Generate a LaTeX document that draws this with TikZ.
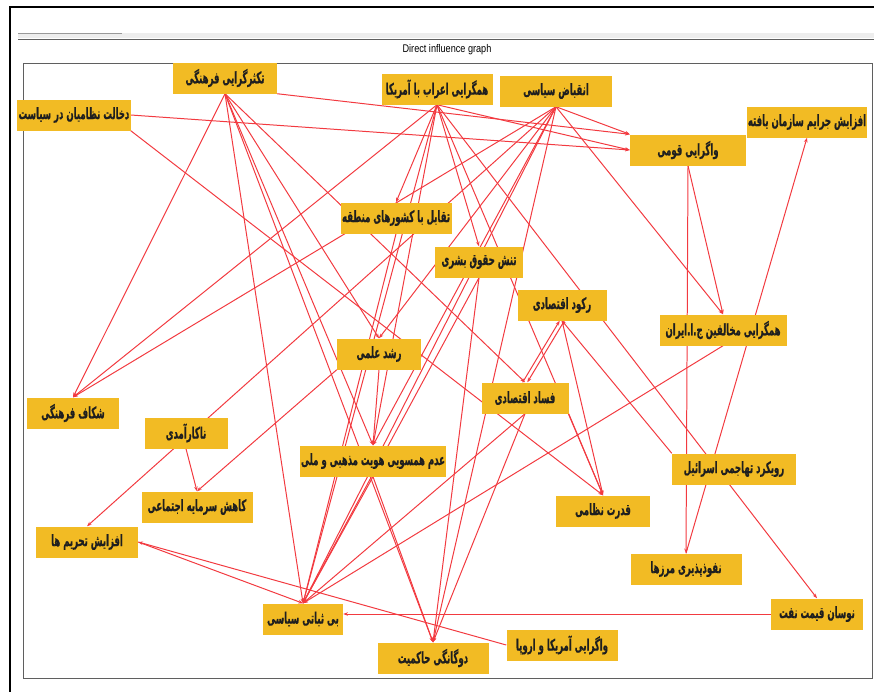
\documentclass[tikz,border=0pt]{standalone}
\usepackage{fontspec}
\setmainfont{Liberation Sans}
\newfontfamily\arabicfont[Script=Arabic,FakeStretch=0.54,BoldFeatures={FakeBold=0.5}]{DejaVu Sans}
\newfontfamily\titlefont[FakeStretch=0.82]{Liberation Sans}
\TeXXeTstate=1
\usepackage{xcolor}
\usepackage{tikz}
\usetikzlibrary{arrows.meta,backgrounds}
\definecolor{BoxGold}{RGB}{242,187,36}
\definecolor{LinkRed}{RGB}{242,58,64}
\definecolor{FrameGray}{RGB}{95,95,95}
\tikzset{
    factor/.style={rectangle, fill=BoxGold, text=black!88, font=\arabicfont\bfseries\fontsize{13.5}{15}\selectfont, minimum height=0.93cm, inner sep=1pt},
    wd/.style={minimum width=#1*0.03cm},
    link/.style={draw=LinkRed, line width=0.85pt, -{Stealth[length=4pt,width=3pt]}}
}

\begin{document}
\begin{tikzpicture}[x=0.03cm, y=-0.03cm]
        \useasboundingbox (0,0) rectangle (874,692);

        % --- WINDOW FRAME ---
        \draw[black, line width=1.4pt] (9,7) -- (874,7);
        \draw[black, line width=2pt] (10,7) -- (10,692);
        \fill[black!7] (18,33) rectangle (874,38);
        \draw[black!40] (18,33) -- (122,33);
        \draw[FrameGray, line width=0.8pt] (18,39) -- (874,39);
        \node[font=\titlefont\fontsize{9.5}{10}\selectfont] (title) at (447,50) {Direct influence graph};
        \draw[FrameGray, line width=0.6pt] (23,63) rectangle (872,678);

        % --- FACTORS ---
        \node[factor, wd=104] (tak)     at (225,78)  {\beginR تکثرگرایی فرهنگی\endR};
        \node[factor, wd=113] (dakh)    at (74,115)  {\beginR دخالت نظامیان در سیاست\endR};
        \node[factor, wd=111] (aarab)   at (437,89)  {\beginR همگرایی اعراب با آمریکا\endR};
        \node[factor, wd=112] (enqb)    at (556,91)  {\beginR انقباض سیاسی\endR};
        \node[factor, wd=116] (qoumi)   at (688,150) {\beginR واگرایی قومی\endR};
        \node[factor, wd=112] (jaraem)  at (807,122) {\beginR افزایش جرایم سازمان یافته\endR};
        \node[factor, wd=111] (taqabol) at (396,218) {\beginR تقابل با کشورهای منطقه\endR};
        \node[factor, wd=88]  (hoquq)   at (479,262) {\beginR تنش حقوق بشری\endR};
        \node[factor, wd=89]  (rokud)   at (562,305) {\beginR رکود اقتصادی\endR};
        \node[factor, wd=127] (mokh)    at (723,330) {\beginR همگرایی مخالفین ج.ا.ایران\endR};
        \node[factor, wd=84]  (roshd)   at (379,354) {\beginR رشد علمی\endR};
        \node[factor, wd=87]  (fesad)   at (525,398) {\beginR فساد اقتصادی\endR};
        \node[factor, wd=92]  (shekaf)  at (73,413)  {\beginR شکاف فرهنگی\endR};
        \node[factor, wd=83]  (nakar)   at (186,433) {\beginR ناکارآمدی\endR};
        \node[factor, wd=140] (hamsu)   at (373,461) {\beginR عدم همسویی هویت مذهبی و ملی\endR};
        \node[factor, wd=94]  (qodrat)  at (603,511) {\beginR قدرت نظامی\endR};
        \node[factor, wd=124] (israel)  at (734,469) {\beginR رویکرد تهاجمی اسرائیل\endR};
        \node[factor, wd=111] (sarmaye) at (197,507) {\beginR کاهش سرمایه اجتماعی\endR};
        \node[factor, wd=102] (tahrim)  at (87,542)  {\beginR افزایش تحریم ها\endR};
        \node[factor, wd=111] (marz)    at (686,569) {\beginR نفوذپذیری مرزها\endR};
        \node[factor, wd=92]  (naft)    at (817,614) {\beginR نوسان قیمت نفت\endR};
        \node[factor, wd=80]  (bisabat) at (303,619) {\beginR بی ثباتی سیاسی\endR};
        \node[factor, wd=111] (amrika)  at (562,645) {\beginR واگرایی آمریکا و اروپا\endR};
        \node[factor, wd=111] (dogan)   at (433,658) {\beginR دوگانگی حاکمیت\endR};

        % --- DIRECT INFLUENCES (behind the boxes) ---
        \begin{scope}[on background layer]
            % from the top row
            \draw[link] (tak.south) -- (shekaf.north);
            \draw[link] (tak.south east) -- (qoumi.north west);
            \draw[link] (tak.south) -- (fesad.north);
            \draw[link] (tak.south) -- (roshd.north);
            \draw[link] (tak.south) -- (hamsu.north);
            \draw[link] (tak.south) -- (dogan.north);
            \draw[link] (tak.south) -- (bisabat.north);
            \draw[link] (dakh.east) -- (qoumi.west);
            \draw[link] (dakh.south east) -- (qodrat.north);
            \draw[link] (aarab.south) -- (shekaf.north);
            \draw[link] (aarab.south) -- (taqabol.north);
            \draw[link] (aarab.south) -- (hamsu.north);
            \draw[link] (aarab.south) -- (bisabat.north);
            \draw[link] (aarab.south) -- (hoquq.north);
            \draw[link] (aarab.south) -- (qodrat.north);
            \draw[link] (aarab.south) -- (naft.north);
            \draw[link] (aarab.south) -- (qoumi.west);
            \draw[link] (enqb.south) -- (shekaf.north);
            \draw[link] (enqb.south) -- (tahrim.north);
            \draw[link] (enqb.south) -- (qoumi.north west);
            \draw[link] (enqb.south) -- (mokh.north);
            \draw[link] (enqb.south) -- (roshd.north);
            \draw[link] (enqb.south) -- (hamsu.north);
            \draw[link] (enqb.south) -- (bisabat.north);
            \draw[link] (enqb.south) -- (dogan.north);
            % middle
            \draw[link] (taqabol.south) -- (bisabat.north);
            \draw[link] (hoquq.south) -- (bisabat.north);
            \draw[link] (hoquq.south) -- (dogan.north);
            \draw[link] ([xshift=-2pt]fesad.north) -- ([xshift=-2pt]rokud.south);
            \draw[link] ([xshift=2pt]rokud.south) -- ([xshift=2pt]fesad.north);
            \draw[link] (rokud.south) -- (qodrat.north);
            \draw[link] (fesad.south east) -- (qodrat.north);
            \draw[link] (fesad.south) -- (bisabat.north);
            \draw[link] (fesad.south) -- (dogan.north);
            \draw[link] (qoumi.south) -- (mokh.north);
            \draw[link] (qoumi.south) -- (marz.north);
            \draw[link] (mokh.south) -- (bisabat.north);
            \draw[link] (israel.north west) -- (rokud.south);
            \draw[link] (marz.north) -- (jaraem.south);
            \draw[link] (roshd.south) -- (hamsu.north);
            \draw[link] (roshd.south west) -- (sarmaye.north);
            \draw[link] (nakar.south) -- (sarmaye.north);
            % bottom row
            \draw[link] (hamsu.south) -- (bisabat.north);
            \draw[link] (hamsu.south) -- (dogan.north);
            \draw[link] (tahrim.east) -- (bisabat.north);
            \draw[link] (amrika.west) -- (tahrim.east);
            \draw[link] (naft.west) -- (naft.west -| bisabat.east);
        \end{scope}

    \end{tikzpicture}
\end{document}
